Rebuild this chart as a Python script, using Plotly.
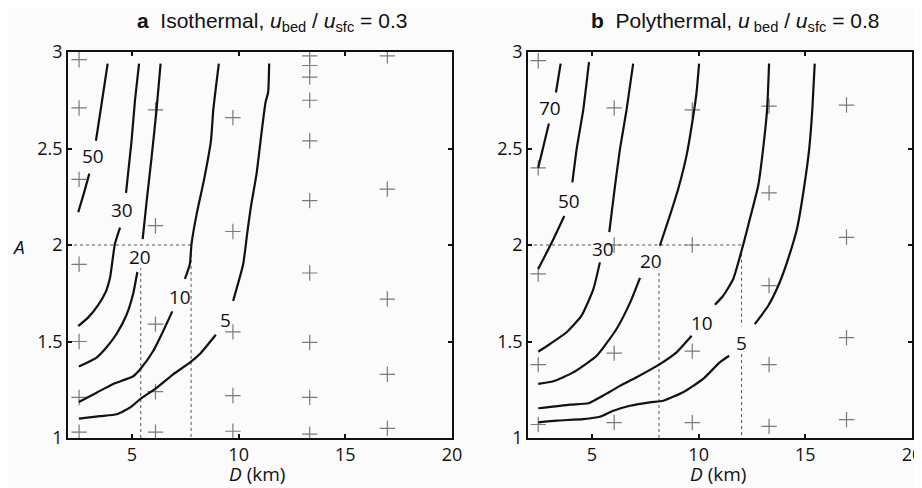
import plotly.graph_objects as go

# ---------------- data ----------------
# grid sample points (+ markers)
A_PTS_D = [2.52]*7 + [6.1]*5 + [9.73]*5 + [13.33]*10 + [16.97]*5
A_PTS_A = [2.96, 2.71, 2.34, 1.90, 1.50, 1.21, 1.03,
           2.70, 2.10, 1.59, 1.24, 1.03,
           2.66, 2.07, 1.55, 1.22, 1.035,
           2.98, 2.93, 2.87, 2.75, 2.54, 2.23, 1.855, 1.495, 1.21, 1.02,
           2.98, 2.29, 1.72, 1.33, 1.05]
B_PTS_D = [2.48]*5 + [6.04]*4 + [9.70]*4 + [13.30]*5 + [16.93]*4
B_PTS_A = [2.955, 2.40, 1.85, 1.38, 1.07,
           2.71, 2.0, 1.44, 1.08,
           2.70, 2.0, 1.45, 1.08,
           2.72, 2.27, 1.79, 1.38, 1.06,
           2.725, 2.04, 1.52, 1.095]

# panel a contours (None separates segments around labels)
A_C50_D = [3.86, 3.60, 3.31, None, 3.00, 2.75, 2.48]
A_C50_A = [2.94, 2.75, 2.54, None, 2.37, 2.27, 2.17]
A_C30_D = [5.33, 5.14, 4.98, 4.72, None, 4.44, 4.20, 3.97, 3.78, 3.42, 2.95, 2.48]
A_C30_A = [2.94, 2.75, 2.54, 2.27, None, 2.09, 2.006, 1.83, 1.76, 1.69, 1.625, 1.58]
A_C20_D = [6.34, 6.15, 5.92, 5.69, 5.50, None, 5.25, 5.06, 4.75, 4.28, 3.81, 3.34, 2.51]
A_C20_A = [2.94, 2.70, 2.456, 2.23, 2.03, None, 1.86, 1.75, 1.64, 1.54, 1.47, 1.417, 1.37]
A_C10_D = [9.07, 8.81, 8.70, 8.37, 8.03, 7.79, 7.71, 7.48, None,
           6.89, 6.47, 6.00, 5.45, 5.06, 4.12, 3.34, 2.51]
A_C10_A = [2.94, 2.70, 2.54, 2.335, 2.16, 2.006, 1.90, 1.824, None,
           1.656, 1.556, 1.452, 1.365, 1.32, 1.28, 1.235, 1.187]
A_C5_D = [11.43, 11.38, 11.26, 11.07, 10.84, 10.57, 10.40, 10.21, 9.74, None,
          8.93, 8.18, 7.71, 6.93, 6.15, 5.37, 4.90, 4.28, 3.50, 2.51]
A_C5_A = [2.94, 2.79, 2.74, 2.58, 2.37, 2.196, 2.06, 1.90, 1.71, None,
          1.535, 1.435, 1.39, 1.33, 1.26, 1.20, 1.157, 1.123, 1.113, 1.10]

# panel b contours
B_C70_D = [3.53, 3.31, None, 2.98, 2.48]
B_C70_A = [2.94, 2.79, None, 2.63, 2.40]
B_C50_D = [4.86, 4.59, 4.28, 4.08, None, 3.70, 3.19, 2.48]
B_C50_A = [2.947, 2.70, 2.497, 2.325, None, 2.15, 2.03, 1.876]
B_C30_D = [6.93, 6.62, 6.31, 6.04, 5.81, None, 5.37, 5.06, 4.51, 3.81, 3.03, 2.48]
B_C30_A = [2.94, 2.70, 2.497, 2.273, 2.067, None, 1.91, 1.77, 1.634, 1.548, 1.487, 1.447]
B_C20_D = [10.02, 9.90, 9.70, 9.43, 9.04, 8.65, 8.18, None,
           7.25, 6.78, 6.15, 5.22, 4.12, 3.19, 2.48]
B_C20_A = [2.94, 2.79, 2.636, 2.463, 2.29, 2.152, 1.996, None,
           1.83, 1.70, 1.565, 1.426, 1.34, 1.294, 1.28]
B_C10_D = [13.30, 13.21, 13.02, 12.79, 12.40, 12.06, 11.62, 11.15, 10.76, None,
           9.67, 8.96, 8.18, 7.09, 6.31, 5.53, 4.83, 3.97, 2.48]
B_C10_A = [2.94, 2.705, 2.497, 2.307, 2.135, 1.99, 1.824, 1.737, 1.69, None,
           1.53, 1.444, 1.383, 1.315, 1.27, 1.22, 1.18, 1.173, 1.154]
B_C5_D = [15.44, 15.33, 15.18, 14.93, 14.62, 14.19, 13.80, 13.26, 12.63, None,
          11.43, 10.99, 10.21, 9.27, 8.34, 7.71, 6.78, 6.00, 5.37, 4.59, 3.34, 2.48]
B_C5_A = [2.94, 2.705, 2.497, 2.29, 2.09, 1.927, 1.807, 1.685, 1.59, None,
          1.426, 1.392, 1.306, 1.237, 1.193, 1.185, 1.167, 1.141, 1.11, 1.098, 1.09, 1.081]

# contour labels
A_LAB_TEXT = ["50", "30", "20", "10", "5"]
A_LAB_D = [3.16, 4.51, 5.37, 7.25, 9.40]
A_LAB_A = [2.46, 2.18, 1.937, 1.73, 1.61]
B_LAB_TEXT = ["70", "50", "30", "20", "10", "5"]
B_LAB_D = [3.03, 3.92, 5.53, 7.76, 10.14, 12.01]
B_LAB_A = [2.71, 2.23, 1.98, 1.916, 1.594, 1.49]

# dotted reference lines
A_REF_D = [2, 7.77, 7.77, None, 5.41, 5.41]
A_REF_A = [2, 2, 1, None, 1, 1.88]
B_REF_D = [2, 4.98, None, 5.95, 12.01, 12.01, 12.01, None, 12.01, 12.01, None, 8.14, 8.14]
B_REF_A = [2, 2, None, 2, 2, 2, 1.58, None, 1.435, 1, None, 1, 1.867]

X_TICKS = [5, 10, 15, 20]
Y_TICKS = [1, 1.5, 2, 2.5, 3]
Y_TICK_TEXT = ["1", "1.5", "2", "2.5", "3"]

TITLE_A = "<b>a</b>  Isothermal, <i>u</i><sub>bed</sub> / <i>u</i><sub>sfc</sub> = 0.3"
TITLE_B = "<b>b</b>  Polythermal, <i>u</i><sub> bed</sub> / <i>u</i><sub>sfc</sub> = 0.8"
X_TITLE = "<i>D</i> (km)"
Y_TITLE = "<i>A</i>"

# ---------------- figure ----------------
W, H = 922, 488
OFF = 8  # page body margin of the html output
BG = "#fbfbfb"
TICK_FONT = dict(family="Open Sans", size=18, color="#111")
LABEL_FONT = dict(family="Open Sans", size=19, color="#111")
LINE = dict(color="#111", width=2.2)
REF_LINE = dict(color="#555", width=1, dash="dot")

def px(x):
    return (x - OFF) / W

def py(y):
    return 1 - (y - OFF) / H

fig = go.Figure()

def add_panel(xa, ya, pts_d, pts_a, contours, ref_d, ref_a):
    fig.add_trace(go.Scatter(x=ref_d, y=ref_a, mode="lines", line=REF_LINE,
                             xaxis=xa, yaxis=ya, showlegend=False, connectgaps=False))
    fig.add_trace(go.Scatter(x=pts_d, y=pts_a, mode="markers",
                             marker=dict(symbol="cross-thin", size=11,
                                         line=dict(color="#7a7a7a", width=1.2)),
                             xaxis=xa, yaxis=ya, showlegend=False))
    for cd, ca in contours:
        fig.add_trace(go.Scatter(x=cd, y=ca, mode="lines", line=LINE,
                                 line_shape="spline", line_smoothing=0.5,
                                 xaxis=xa, yaxis=ya, showlegend=False, connectgaps=False))

add_panel("x", "y", A_PTS_D, A_PTS_A,
          [(A_C50_D, A_C50_A), (A_C30_D, A_C30_A), (A_C20_D, A_C20_A),
           (A_C10_D, A_C10_A), (A_C5_D, A_C5_A)], A_REF_D, A_REF_A)
add_panel("x2", "y2", B_PTS_D, B_PTS_A,
          [(B_C70_D, B_C70_A), (B_C50_D, B_C50_A), (B_C30_D, B_C30_A),
           (B_C20_D, B_C20_A), (B_C10_D, B_C10_A), (B_C5_D, B_C5_A)], B_REF_D, B_REF_A)

annotations = []
for t, d, a in zip(A_LAB_TEXT, A_LAB_D, A_LAB_A):
    annotations.append(dict(x=d, y=a, xref="x", yref="y", text=t, showarrow=False,
                            xanchor="center", yanchor="middle", font=LABEL_FONT))
for t, d, a in zip(B_LAB_TEXT, B_LAB_D, B_LAB_A):
    annotations.append(dict(x=d, y=a, xref="x2", yref="y2", text=t, showarrow=False,
                            xanchor="center", yanchor="middle", font=LABEL_FONT))
TITLE_FONT = dict(family="Liberation Sans", size=21, color="#111")
annotations.append(dict(x=px(272), y=py(22), xref="paper", yref="paper", text=TITLE_A,
                        xanchor="center", yanchor="middle", showarrow=False, font=TITLE_FONT))
annotations.append(dict(x=px(735), y=py(22), xref="paper", yref="paper", text=TITLE_B,
                        xanchor="center", yanchor="middle", showarrow=False, font=TITLE_FONT))
AX_TITLE_FONT = dict(family="Open Sans", size=19, color="#111")
annotations.append(dict(x=px(257), y=py(474), xref="paper", yref="paper", text=X_TITLE,
                        xanchor="center", yanchor="middle", showarrow=False, font=AX_TITLE_FONT))
annotations.append(dict(x=px(718), y=py(474), xref="paper", yref="paper", text=X_TITLE,
                        xanchor="center", yanchor="middle", showarrow=False, font=AX_TITLE_FONT))
annotations.append(dict(x=px(18), y=py(247), xref="paper", yref="paper", text=Y_TITLE,
                        xanchor="center", yanchor="middle", showarrow=False, font=AX_TITLE_FONT))

def xaxis(domain, anchor):
    return dict(domain=domain, range=[2, 20], tickvals=X_TICKS, ticks="inside", ticklen=4,
                tickwidth=1.5, tickcolor="#111", showline=True, linecolor="#111", linewidth=1.5,
                mirror="ticks", showgrid=False, zeroline=False, tickfont=TICK_FONT,
                anchor=anchor, automargin=False)

def yaxis(domain, anchor):
    return dict(domain=domain, range=[1, 3], tickvals=Y_TICKS, ticktext=Y_TICK_TEXT,
                ticks="inside", ticklen=4, tickwidth=1.5, tickcolor="#111", showline=True,
                linecolor="#111", linewidth=1.5, mirror="ticks", showgrid=False, zeroline=False,
                tickfont=TICK_FONT, anchor=anchor, automargin=False)

ydom = [py(438), py(52)]
fig.update_layout(
    width=W, height=H,
    margin=dict(l=0, r=0, t=0, b=0, autoexpand=False),
    paper_bgcolor=BG, plot_bgcolor=BG,
    xaxis=xaxis([px(68), px(452)], "y"),
    yaxis=yaxis(ydom, "x"),
    xaxis2=xaxis([px(528), px(912)], "y2"),
    yaxis2=yaxis(ydom, "x2"),
    annotations=annotations,
)

fig.write_html("out.html")
